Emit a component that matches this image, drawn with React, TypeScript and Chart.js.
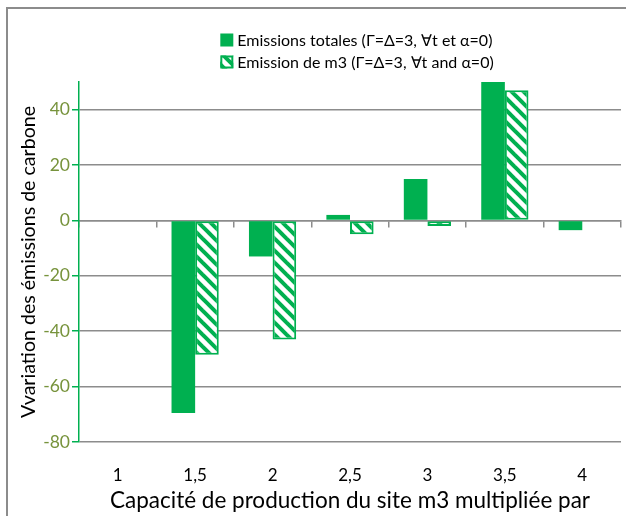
import React, { useEffect, useRef } from 'react';
import { Chart, registerables } from 'chart.js';

Chart.register(...registerables);

const categories = ['1', '1,5', '2', '2,5', '3', '3,5', '4'];
const totalEmissions = [0, -69.5, -13, 2, 15, 52, -3.5];
const m3Emissions = [0, -48.5, -43, -5, -2, 47, 0];
const yTicks = [-80, -60, -40, -20, 0, 20, 40];
const seriesLabels = [
  'Emissions totales (Γ=Δ=3, ∀t et α=0)',
  'Emission de m3 (Γ=Δ=3, ∀t and α=0)',
];
const xTitle = 'Capacité de production du site m3 multipliée par';
const yTitle = 'Vvariation des émissions de carbone';

const GREEN = '#00B050';
const OLIVE = '#77933C';
const GRAY = '#8C8C8C';
const FONT = 'Lato, "Liberation Sans", sans-serif';

function makeStripes(): CanvasPattern | string {
  const c = document.createElement('canvas');
  c.width = 12;
  c.height = 12;
  const g = c.getContext('2d');
  if (!g) return GREEN;
  g.fillStyle = '#ffffff';
  g.fillRect(0, 0, 12, 12);
  g.strokeStyle = GREEN;
  g.lineWidth = 4;
  for (const x0 of [-12, 0, 12]) {
    g.beginPath();
    g.moveTo(x0 - 2, -2);
    g.lineTo(x0 + 14, 14);
    g.stroke();
  }
  const p = g.createPattern(c, 'repeat');
  return p || GREEN;
}

const legendPlugin = {
  id: 'customLegend',
  afterDraw(chart: any) {
    const ctx = chart.ctx;
    const area = chart.chartArea;
    ctx.save();
    ctx.font = `16px ${FONT}`;
    ctx.textBaseline = 'middle';
    ctx.textAlign = 'left';
    const widths = chart.data.datasets.map((d: any) => ctx.measureText(d.label).width);
    const maxW = Math.max(...widths);
    const box = 13;
    const gap = 4;
    const total = box + gap + maxW;
    const cx = (area.left + area.right) / 2 + 7;
    const startX = cx - total / 2;
    chart.data.datasets.forEach((d: any, i: number) => {
      const y = 40 + i * 22;
      ctx.fillStyle = d.backgroundColor;
      ctx.fillRect(startX, y - box / 2, box, box);
      if (d.borderWidth) {
        ctx.strokeStyle = d.borderColor;
        ctx.lineWidth = 2;
        ctx.strokeRect(startX + 1, y - box / 2 + 1, box - 2, box - 2);
      }
      ctx.fillStyle = '#000';
      ctx.fillText(d.label, startX + box + gap, y + 1);
    });
    ctx.restore();
  },
};

export default function App() {
  const ref = useRef<HTMLCanvasElement | null>(null);

  useEffect(() => {
    if (!ref.current) return;
    const stripes = makeStripes();
    const chart = new Chart(ref.current, {
      type: 'bar',
      data: {
        labels: categories,
        datasets: [
          {
            label: seriesLabels[0],
            data: totalEmissions,
            backgroundColor: GREEN,
            borderWidth: 0,
            categoryPercentage: 0.61,
            barPercentage: 1,
            clip: 0,
          },
          {
            label: seriesLabels[1],
            data: m3Emissions,
            backgroundColor: stripes as any,
            borderColor: GREEN,
            borderWidth: 2,
            borderSkipped: false,
            categoryPercentage: 0.61,
            barPercentage: 1,
            clip: 0,
          },
        ],
      },
      options: {
        animation: false,
        responsive: false,
        maintainAspectRatio: false,
        layout: { padding: { top: 82, right: 5, bottom: 0, left: 0 } },
        plugins: {
          legend: { display: false },
          tooltip: { enabled: false },
        },
        scales: {
          x: {
            type: 'category',
            grid: { display: false, drawTicks: false },
            border: { display: false },
            ticks: {
              color: '#000',
              font: { family: FONT, size: 17 },
              padding: 23,
              maxRotation: 0,
              autoSkip: false,
            },
            title: {
              display: true,
              text: xTitle,
              color: '#000',
              font: { family: FONT, size: 22.5 },
              padding: { top: 0, bottom: 2 },
            },
            afterFit: (s: any) => {
              s.height = 74;
            },
          },
          x2: {
            type: 'category',
            axis: 'x',
            position: { y: 0 },
            offset: true,
            grid: {
              offset: true,
              drawOnChartArea: false,
              color: GRAY,
              tickLength: 6,
              lineWidth: 1.5,
            },
            border: { color: GRAY, width: 1.5 },
            ticks: { display: false },
          },
          y: {
            min: -80,
            max: 50,
            afterBuildTicks: (s: any) => {
              s.ticks = yTicks.map((v) => ({ value: v }));
            },
            grid: { color: GRAY, lineWidth: 1.5, tickColor: GREEN, tickLength: 7 },
            border: { color: GREEN, width: 1.5 },
            ticks: {
              color: OLIVE,
              font: { family: FONT, size: 17.5 },
              padding: 2,
            },
            title: {
              display: true,
              text: yTitle,
              color: '#000',
              font: { family: FONT, size: 19.6 },
              padding: { top: 17, bottom: 0 },
            },
            afterFit: (s: any) => {
              s.width = 79;
            },
          },
        } as any,
      },
      plugins: [legendPlugin],
    });
    return () => chart.destroy();
  }, []);

  return (
    <div style={{ position: 'absolute', left: 0, top: 0, width: 626, height: 516, background: '#fff' }}>
      <div
        style={{
          position: 'absolute',
          left: 6,
          top: 7,
          width: 626,
          height: 516,
          borderLeft: `2px solid ${GRAY}`,
          borderTop: `2px solid ${GRAY}`,
        }}
      />
      <canvas ref={ref} width={626} height={516} style={{ position: 'absolute', left: 0, top: 0 }} />
    </div>
  );
}
